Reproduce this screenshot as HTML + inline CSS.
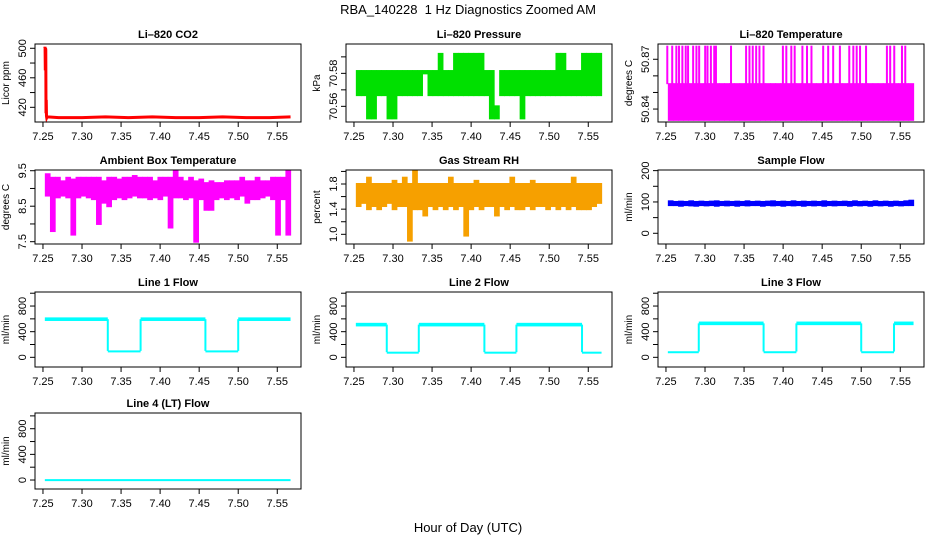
<!DOCTYPE html>
<html><head><meta charset="utf-8"><style>
html,body{margin:0;padding:0;background:#fff;}
svg{display:block;font-family:"Liberation Sans",Arial,sans-serif;}
</style></head><body>
<svg id="chart" width="936" height="540" viewBox="0 0 936 540">
<text x="468" y="14" text-anchor="middle" font-size="13" xml:space="preserve">RBA_140228&#160; 1 Hz Diagnostics Zoomed AM</text>
<text x="468" y="532" text-anchor="middle" font-size="13">Hour of Day (UTC)</text>
</svg>
<script>
// shared x axis
const xTicks=[7.25,7.30,7.35,7.40,7.45,7.50,7.55];
const xTickLabels=["7.25","7.30","7.35","7.40","7.45","7.50","7.55"];
const binStart=7.2524, binW=0.006554;
// CO2
const coTime=[7.2524,7.2527,7.2530,7.2533,7.2536,7.2539,7.2542,7.2545,7.2548,7.2552,7.256,7.27,7.30,7.33,7.36,7.39,7.42,7.45,7.48,7.51,7.54,7.567];
const coVal=[500,502,470,500,498,412,430,408,406,407,407,406,406,407,406,407,406,406,407,406,406,407];
// Ambient box temperature bins
const ambLo=[8.8,7.8,8.75,8.8,8.75,7.7,8.75,8.8,8.75,8.7,8.0,8.6,8.5,8.7,8.75,8.7,8.75,8.8,8.75,8.75,8.7,8.75,8.7,8.8,7.9,8.75,8.75,8.7,8.75,7.5,8.7,8.4,8.4,8.7,8.75,8.7,8.75,8.7,8.8,8.6,8.7,8.7,8.75,8.8,8.7,7.7,8.7,7.7];
const ambHi=[9.4,9.3,9.3,9.2,9.3,9.25,9.3,9.3,9.3,9.3,9.3,9.2,9.3,9.3,9.25,9.3,9.3,9.35,9.3,9.3,9.3,9.2,9.3,9.3,9.3,9.5,9.3,9.2,9.3,9.2,9.25,9.15,9.2,9.15,9.15,9.2,9.2,9.2,9.3,9.2,9.2,9.3,9.2,9.2,9.3,9.3,9.3,9.5];
// Pressure bins
const presLo=[70.5668,70.5668,70.5527,70.5527,70.5668,70.5668,70.5527,70.5527,70.5668,70.5668,70.5668,70.5668,70.5668,70.5800,70.5668,70.5668,70.5668,70.5668,70.5668,70.5668,70.5668,70.5668,70.5668,70.5668,70.5668,70.5668,70.5527,70.5527,70.5668,70.5668,70.5668,70.5668,70.5527,70.5668,70.5668,70.5668,70.5668,70.5668,70.5668,70.5668,70.5668,70.5668,70.5668,70.5668,70.5668,70.5668,70.5668,70.5668];
const presHi=[70.5814,70.5814,70.5814,70.5814,70.5814,70.5814,70.5814,70.5814,70.5814,70.5814,70.5814,70.5814,70.5814,70.5814,70.5814,70.5814,70.5918,70.5814,70.5814,70.5918,70.5918,70.5918,70.5918,70.5918,70.5918,70.5814,70.5814,70.5600,70.5814,70.5814,70.5814,70.5814,70.5814,70.5814,70.5814,70.5814,70.5814,70.5814,70.5814,70.5918,70.5918,70.5814,70.5814,70.5814,70.5918,70.5918,70.5918,70.5918];
// Li-820 temperature bins (core band) + upward spikes
const tempLo=[50.8335,50.8335,50.8335,50.8335,50.8335,50.8335,50.8335,50.8335,50.8335,50.8335,50.8335,50.8335,50.8335,50.8335,50.8335,50.8335,50.8335,50.8335,50.8335,50.8335,50.8335,50.8335,50.8335,50.8335,50.8335,50.8335,50.8335,50.8335,50.8335,50.8335,50.8335,50.8335,50.8335,50.8335,50.8335,50.8335,50.8335,50.8335,50.8335,50.8335,50.8335,50.8335,50.8335,50.8335,50.8335,50.8335,50.8335,50.8335];
const tempHi=[50.855,50.855,50.855,50.855,50.855,50.855,50.855,50.855,50.855,50.855,50.855,50.855,50.855,50.855,50.855,50.855,50.855,50.855,50.855,50.855,50.855,50.855,50.855,50.855,50.855,50.855,50.855,50.855,50.855,50.855,50.855,50.855,50.855,50.855,50.855,50.855,50.855,50.855,50.855,50.855,50.855,50.855,50.855,50.855,50.855,50.855,50.855,50.855];
const tempSpikeTime=[7.2517,7.258,7.2633,7.2667,7.271,7.2753,7.2783,7.2848,7.289,7.2925,7.3002,7.3032,7.3075,7.3118,7.314,7.3333,7.3526,7.3569,7.3611,7.3655,7.3697,7.3749,7.3997,7.4041,7.4105,7.4148,7.4247,7.4306,7.4363,7.4513,7.4577,7.4641,7.4727,7.4847,7.4899,7.4942,7.4985,7.5062,7.5329,7.5371,7.5423,7.5522,7.5564];
const tempSpikeVal=[50.8776,50.8776,50.8776,50.8776,50.8776,50.8776,50.8776,50.8776,50.8776,50.8776,50.8776,50.8776,50.8776,50.8776,50.8776,50.8776,50.8776,50.8776,50.8776,50.8776,50.8776,50.8776,50.8776,50.8776,50.8776,50.8776,50.8776,50.8776,50.8776,50.8776,50.8776,50.8776,50.8776,50.8776,50.8776,50.8776,50.8776,50.8776,50.8776,50.8776,50.8776,50.8776,50.8776];
// Gas stream RH bins
const rhLo=[1.45,1.5,1.4,1.45,1.4,1.45,1.5,1.4,1.45,1.45,0.9,1.4,1.4,1.3,1.45,1.4,1.45,1.4,1.45,1.4,1.45,0.98,1.4,1.45,1.4,1.45,1.45,1.3,1.45,1.4,1.45,1.4,1.4,1.45,1.4,1.45,1.45,1.4,1.45,1.4,1.45,1.4,1.45,1.4,1.4,1.4,1.45,1.5];
const rhHi=[1.8,1.8,1.9,1.8,1.8,1.8,1.8,1.85,1.8,1.9,1.8,2.0,1.8,1.8,1.8,1.8,1.8,1.8,1.9,1.8,1.8,1.8,1.8,1.85,1.8,1.8,1.8,1.8,1.8,1.8,1.9,1.8,1.8,1.8,1.85,1.8,1.8,1.8,1.8,1.8,1.8,1.8,1.9,1.8,1.8,1.8,1.8,1.8];
// Sample flow bins
const sfLo=[90,90,88,90,89,88,90,89,90,88,90,89,90,88,90,89,90,90,88,90,89,90,88,90,89,90,88,90,89,90,88,90,89,90,90,88,90,89,90,88,90,89,90,88,90,89,90,90];
const sfHi=[102,100,101,100,102,100,101,100,101,102,100,101,100,101,100,102,100,101,100,101,102,100,101,100,102,100,101,100,101,100,102,100,101,100,101,100,102,100,101,100,102,100,101,100,101,100,102,104];
// Line flows (segments)
const l1Start=[7.2524,7.333,7.375,7.458,7.500], l1End=[7.333,7.375,7.458,7.500,7.567], l1Val=[595,100,595,100,595], l1Noise=[28,8,28,8,28];
const l2Start=[7.2524,7.292,7.333,7.417,7.458,7.542], l2End=[7.292,7.333,7.417,7.458,7.542,7.567], l2Val=[510,80,510,80,510,80], l2Noise=[28,8,28,8,28,8];
const l3Start=[7.2524,7.292,7.375,7.417,7.500,7.542], l3End=[7.292,7.375,7.417,7.500,7.542,7.567], l3Val=[90,530,90,530,90,530], l3Noise=[5,28,5,28,5,28];
const l4Start=[7.2524], l4End=[7.567], l4Val=[5], l4Noise=[9];

const NS="http://www.w3.org/2000/svg";
const svg=document.getElementById('chart');
function mk(tag,attrs,parent){const e=document.createElementNS(NS,tag);for(const k in attrs)e.setAttribute(k,attrs[k]);(parent||svg).appendChild(e);return e;}

function panel(cfg){
  const g=mk('g',{});
  
  
  const L=cfg.left,T=cfg.top,B=cfg.bottom,W=266;
  const xs=t=>L+(t-7.2398)*781;
  const ys=v=>B-(v-cfg.ymin)/(cfg.ymax-cfg.ymin)*(B-T);
  const marks=mk('g',{},g);
  
  
  cfg.draw(marks,xs,ys);
  const box=mk('rect',{x:L,y:T,width:W,height:B-T,fill:'none',stroke:'#000','stroke-width':1},g);
  
  
  const t=mk('text',{x:L+W/2,y:T-6,'text-anchor':'middle','font-size':11,'font-weight':'bold'},g);
  t.textContent=cfg.title;
  
  
  const xa=mk('g',{},g);
  
  
  mk('line',{x1:xs(xTicks[0]),x2:xs(xTicks[xTicks.length-1]),y1:B,y2:B,stroke:'#000'},xa);
  xTicks.forEach((tv,i)=>{
    mk('line',{x1:xs(tv),x2:xs(tv),y1:B,y2:B+5,stroke:'#000'},xa);
    const lb=mk('text',{x:xs(tv),y:B+18,'text-anchor':'middle','font-size':11},xa);
    lb.textContent=xTickLabels[i];
    
    
  });
  const ya=mk('g',{},g);
  
  
  const yt=cfg.yTicks;
  mk('line',{x1:L,x2:L,y1:ys(yt[0]),y2:ys(yt[yt.length-1]),stroke:'#000'},ya);
  yt.forEach((v,i)=>{
    mk('line',{x1:L-5,x2:L,y1:ys(v),y2:ys(v),stroke:'#000'},ya);
    if(cfg.yLabels[i]){
      const px=L-9,py=ys(v);
      const lb=mk('text',{x:px,y:py,'text-anchor':'middle','font-size':11,transform:`rotate(-90 ${px} ${py})`},ya);
      lb.textContent=cfg.yLabels[i];
      
      
    }
  });
  const px=L-26,py=(T+B)/2;
  const yl=mk('text',{x:px,y:py,'text-anchor':'middle','font-size':10,transform:`rotate(-90 ${px} ${py})`},g);
  yl.textContent=cfg.ylab;
  
  
}

function bands(lo,hi,color){return (g,xs,ys)=>{
  lo.forEach((v,i)=>{
    const t0=binStart+i*binW;
    const y1=ys(hi[i]),y2=ys(v);
    const r=mk('rect',{x:xs(t0),y:y1-1,width:xs(t0+binW)-xs(t0)+0.6,height:Math.max(2,y2-y1+2),fill:color},g);
    
    
  });
};}
function spikes(times,vals,base,color){return (g,xs,ys)=>{
  times.forEach((t,i)=>{
    const r=mk('rect',{x:xs(t)-1,y:ys(vals[i])-1,width:2,height:ys(base)-ys(vals[i])+1,fill:color},g);
    
    
  });
};}
function steps(st,en,val,noise,color){return (g,xs,ys)=>{
  st.forEach((s,i)=>{
    const y1=ys(val[i]+noise[i]),y2=ys(val[i]-noise[i]);
    const r=mk('rect',{x:xs(s),y:y1,width:xs(en[i])-xs(s),height:Math.max(2,y2-y1),fill:color},g);
    
    
    if(i>0){
      const ln=mk('line',{x1:xs(s),x2:xs(s),y1:ys(val[i-1]),y2:ys(val[i]),stroke:color,'stroke-width':2},g);
      
      
    }
  });
};}

const C1=35,C2=346,C3=658;
const R=[[44,122],[170,244],[292,367],[413,489]];
panel({name:'co2',title:'Li\u2013820 CO2',ylab:'Licor ppm',left:C1,top:R[0][0],bottom:R[0][1],ymin:400.1,ymax:505.8,
  yTicks:[420,440,460,480,500],yLabels:['420','','460','','500'],
  draw:(g,xs,ys)=>{const p=mk('polyline',{points:coTime.map((t,i)=>xs(t)+','+ys(coVal[i])).join(' '),fill:'none',stroke:'#ff0000','stroke-width':3},g);
    
    }});
panel({name:'pressure',title:'Li\u2013820 Pressure',ylab:'kPa',left:C2,top:R[0][0],bottom:R[0][1],ymin:70.5505,ymax:70.5978,
  yTicks:[70.56,70.57,70.58,70.59],yLabels:['70.56','','70.58',''],draw:bands(presLo,presHi,'#00e000')});
panel({name:'li820-temperature',title:'Li\u2013820 Temperature',ylab:'degrees C',left:C3,top:R[0][0],bottom:R[0][1],ymin:50.8322,ymax:50.8792,
  yTicks:[50.84,50.85,50.86,50.87],yLabels:['50.84','','','50.87'],
  draw:(g,xs,ys)=>{bands(tempLo,tempHi,'#ff00ff')(g,xs,ys);spikes(tempSpikeTime,tempSpikeVal,50.855,'#ff00ff')(g,xs,ys);}});
panel({name:'ambient-temperature',title:'Ambient Box Temperature',ylab:'degrees C',left:C1,top:R[1][0],bottom:R[1][1],ymin:7.435,ymax:9.52,
  yTicks:[7.5,8.0,8.5,9.0,9.5],yLabels:['7.5','','8.5','','9.5'],draw:bands(ambLo,ambHi,'#ff00ff')});
panel({name:'gas-stream-rh',title:'Gas Stream RH',ylab:'percent',left:C2,top:R[1][0],bottom:R[1][1],ymin:0.846,ymax:2.0226,
  yTicks:[1.0,1.2,1.4,1.6,1.8,2.0],yLabels:['1.0','','1.4','','1.8',''],draw:bands(rhLo,rhHi,'#f6a000')});
panel({name:'sample-flow',title:'Sample Flow',ylab:'ml/min',left:C3,top:R[1][0],bottom:R[1][1],ymin:-34.2,ymax:202,
  yTicks:[0,50,100,150,200],yLabels:['0','','100','','200'],draw:bands(sfLo,sfHi,'#0000ff')});
const fT=[0,200,400,600,800,1000],fL=['0','','400','','800',''];
panel({name:'line1-flow',title:'Line 1 Flow',ylab:'ml/min',left:C1,top:R[2][0],bottom:R[2][1],ymin:-151,ymax:1019,yTicks:fT,yLabels:fL,draw:steps(l1Start,l1End,l1Val,l1Noise,'#00ffff')});
panel({name:'line2-flow',title:'Line 2 Flow',ylab:'ml/min',left:C2,top:R[2][0],bottom:R[2][1],ymin:-151,ymax:1019,yTicks:fT,yLabels:fL,draw:steps(l2Start,l2End,l2Val,l2Noise,'#00ffff')});
panel({name:'line3-flow',title:'Line 3 Flow',ylab:'ml/min',left:C3,top:R[2][0],bottom:R[2][1],ymin:-151,ymax:1019,yTicks:fT,yLabels:fL,draw:steps(l3Start,l3End,l3Val,l3Noise,'#00ffff')});
panel({name:'line4-flow',title:'Line 4 (LT) Flow',ylab:'ml/min',left:C1,top:R[3][0],bottom:R[3][1],ymin:-140,ymax:1045,yTicks:fT,yLabels:fL,draw:steps(l4Start,l4End,l4Val,l4Noise,'#00ffff')});
</script>
</body></html>
